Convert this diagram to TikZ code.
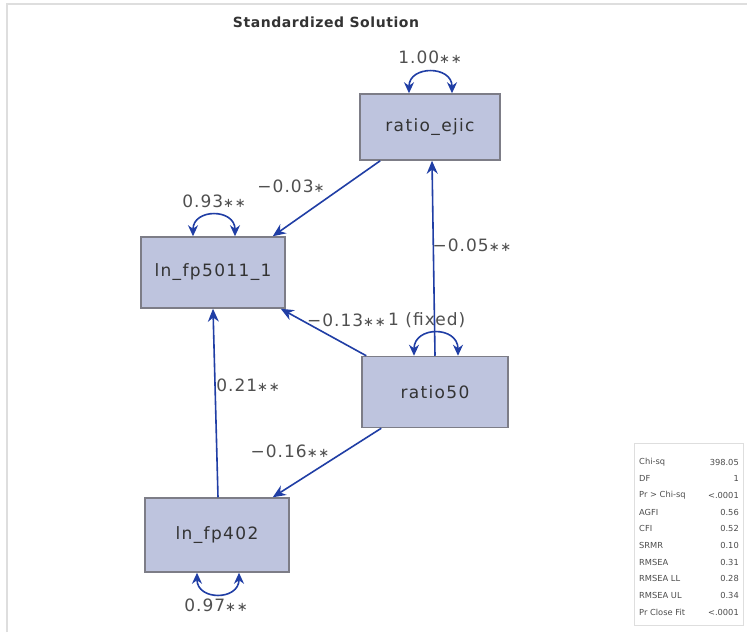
\documentclass[tikz,border=0pt]{standalone}
\usepackage{fontspec}
\setmainfont{DejaVu Sans}
\usetikzlibrary{arrows.meta,calc}
\definecolor{arrowcol}{RGB}{32,62,165}
\definecolor{boxfill}{RGB}{190,196,222}
\definecolor{boxline}{RGB}{125,125,135}
\definecolor{labcol}{RGB}{80,80,80}
\definecolor{framecol}{RGB}{222,222,222}
\tikzset{
  varbox/.style={draw=boxline, line width=1.5pt, fill=boxfill, inner sep=0pt,
    font=\addfontfeatures{LetterSpace=8}\fontsize{17}{20}\selectfont, text=black!80},
  path/.style={draw=arrowcol, line width=1.6pt, -{Stealth[length=13pt,width=11pt]}},
  vararc/.style={draw=arrowcol, line width=1.6pt, {Stealth[length=11pt,width=10pt]}-{Stealth[length=11pt,width=10pt]}},
  lab/.style={text=labcol, inner sep=0pt, font=\addfontfeatures{LetterSpace=6}\fontsize{17}{20}\selectfont},
  fit/.style={text=black!70, inner sep=0pt, font=\fontsize{8.3}{10}\selectfont}
}
\newcommand{\sst}{{\fontsize{13}{14}\selectfont ∗∗}}
\newcommand{\sone}{{\fontsize{13}{14}\selectfont ∗}}
\begin{document}
\begin{tikzpicture}[x=1pt,y=-1pt]
\useasboundingbox (0,0) rectangle (747,632);
\fill[white] (0,0) rectangle (747,632);
\draw[framecol, line width=1.5pt] (7,632) -- (7,4) -- (747,4);

\node[text=black!80, font=\bfseries\addfontfeatures{LetterSpace=4}\fontsize{14}{16}\selectfont] (title) at (326,22) {Standardized Solution};

\node[varbox, minimum width=140pt, minimum height=66pt] (ejic) at (430,127) {ratio\_ejic};
\node[varbox, minimum width=144pt, minimum height=71pt] (fp5011) at (213,272.5) {ln\_fp5011\_1};
\node[varbox, minimum width=146pt, minimum height=71pt] (r50) at (435,392) {ratio50};
\node[varbox, minimum width=144pt, minimum height=74pt] (fp402) at (217,535) {ln\_fp402};

% paths
\draw[path] ([xshift=21pt]ejic.south west) -- ([xshift=-13pt]fp5011.north east);
\draw[path] (r50.north) -- ([xshift=2pt]ejic.south);
\draw[path] ([xshift=5pt]r50.north west) -- ([xshift=-5pt]fp5011.south east);
\draw[path] ([xshift=1pt]fp402.north) -- (fp5011.south);
\draw[path] ([xshift=20pt]r50.south west) -- ([xshift=-17pt]fp402.north east);

% variances
\draw[vararc] ([xshift=-21pt]ejic.north) .. controls ([xshift=-21pt,yshift=28pt]ejic.north) and ([xshift=22pt,yshift=28pt]ejic.north) .. ([xshift=22pt]ejic.north);
\draw[vararc] ([xshift=-20pt]fp5011.north) .. controls ([xshift=-20pt,yshift=28pt]fp5011.north) and ([xshift=22pt,yshift=28pt]fp5011.north) .. ([xshift=22pt]fp5011.north);
\draw[vararc] ([xshift=-21pt]r50.north) .. controls ([xshift=-21pt,yshift=30pt]r50.north) and ([xshift=23pt,yshift=30pt]r50.north) .. ([xshift=23pt]r50.north);
\draw[vararc] ([xshift=-20pt]fp402.south) .. controls ([xshift=-20pt,yshift=-28pt]fp402.south) and ([xshift=22pt,yshift=-28pt]fp402.south) .. ([xshift=22pt]fp402.south);

% labels
\node[lab] (l1) at (430,57) {1.00\sst};
\node[lab] (l2) at (291,186) {−0.03\sone};
\node[lab] (l3) at (214,201) {0.93\sst};
\node[lab] (l4) at (472,245) {−0.05\sst};
\node[lab, anchor=east] (l5) at (386,320) {−0.13\sst};
\node[lab, anchor=west] (l6) at (388,320) {1 (fixed)};
\node[lab] (l7) at (248,385) {0.21\sst};
\node[lab] (l8) at (290,451) {−0.16\sst};
\node[lab] (l9) at (216,605) {0.97\sst};

% fit table
\node[draw=framecol, line width=1pt, minimum width=109pt, minimum height=182pt, inner sep=0pt] (fitbox) at (688.5,534) {};
\foreach \k/\a/\b [count=\i from 0] in {a/Chi-sq/398.05, b/DF/1, c/Pr > Chi-sq/<.0001, d/AGFI/0.56, e/CFI/0.52, f/SRMR/0.10, g/RMSEA/0.31, h/RMSEA LL/0.28, i/RMSEA UL/0.34, j/Pr Close Fit/<.0001}{
  \node[fit, anchor=west] (fl\k) at (639,{462+16.7*\i}) {\a};
  \node[fit, anchor=east] (fr\k) at (739,{462+16.7*\i}) {\b};
}
\end{tikzpicture}
\end{document}
